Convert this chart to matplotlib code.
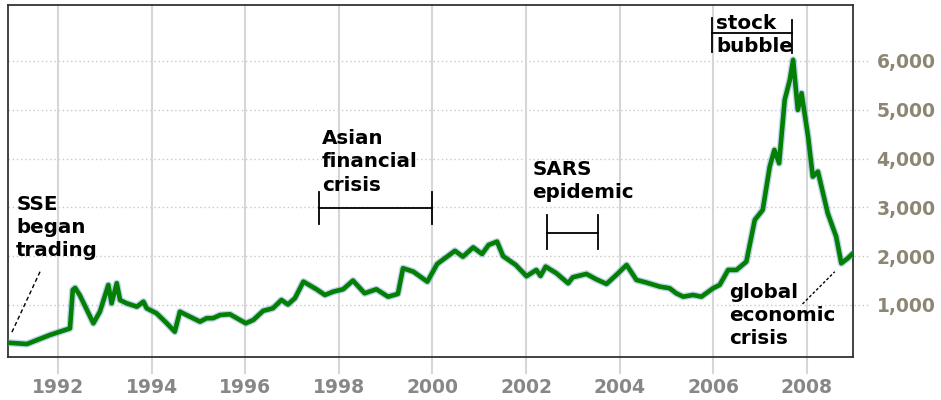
import matplotlib
matplotlib.use("Agg")
import matplotlib.pyplot as plt
import matplotlib.transforms as mtransforms

# ---- data (decimal year, index level) ----
years = [1990.95, 1991.33, 1991.82, 1992.25, 1992.31, 1992.36, 1992.46, 1992.75, 1992.89,
         1993.07, 1993.14, 1993.25, 1993.32, 1993.46, 1993.68, 1993.82, 1993.89, 1994.10,
         1994.32, 1994.49, 1994.60, 1994.74, 1995.03, 1995.17, 1995.31, 1995.46, 1995.67,
         1995.81, 1996.01, 1996.17, 1996.38, 1996.59, 1996.77, 1996.91, 1997.06, 1997.24,
         1997.52, 1997.70, 1997.88, 1998.09, 1998.30, 1998.55, 1998.80, 1999.05, 1999.26,
         1999.37, 1999.59, 1999.89, 2000.10, 2000.48, 2000.65, 2000.87, 2001.06, 2001.20,
         2001.38, 2001.51, 2001.78, 2002.01, 2002.22, 2002.31, 2002.42, 2002.65, 2002.90,
         2003.00, 2003.29, 2003.50, 2003.72, 2003.93, 2004.15, 2004.36, 2004.57, 2004.86,
         2005.07, 2005.21, 2005.36, 2005.57, 2005.75, 2006.00, 2006.14, 2006.32, 2006.50,
         2006.71, 2006.89, 2007.06, 2007.21, 2007.31, 2007.41, 2007.53, 2007.64, 2007.71,
         2007.81, 2007.89, 2008.03, 2008.13, 2008.24, 2008.45, 2008.63, 2008.74, 2008.88,
         2008.99]
index = [225, 200, 385, 520, 1308, 1350, 1200, 625, 863,
         1410, 1035, 1445, 1100, 1035, 965, 1068, 932, 830,
         625, 453, 863, 795, 658, 728, 730, 795, 810,
         733, 625, 693, 880, 933, 1103, 1010, 1140, 1478,
         1322, 1205, 1273, 1322, 1500, 1240, 1322, 1170, 1226,
         1753, 1683, 1478, 1840, 2110, 1990, 2180, 2045, 2230,
         2298, 2000, 1820, 1590, 1718, 1595, 1786, 1650, 1445,
         1568, 1636, 1527, 1431, 1615, 1820, 1513, 1460, 1376,
         1343, 1240, 1170, 1205, 1170, 1343, 1410, 1718, 1718,
         1888, 2743, 2948, 3836, 4178, 3905, 5203, 5613, 6023,
         4998, 5340, 4450, 3630, 3733, 2880, 2400, 1855, 1958,
         2060]

x_ticks = [1992, 1994, 1996, 1998, 2000, 2002, 2004, 2006, 2008]
y_ticks = [1000, 2000, 3000, 4000, 5000, 6000]
y_tick_labels = ["1,000", "2,000", "3,000", "4,000", "5,000", "6,000"]

# events: (label, start, end)
asian = ("Asian\nfinancial\ncrisis", 1997.57, 2000.0)
sars = ("SARS\nepidemic", 2002.44, 2003.54)
bubble = ("stock\nbubble", 2005.98, 2007.69)

W, H = 941, 400
fig = plt.figure(figsize=(W / 100, H / 100), dpi=100)
ax = fig.add_axes([8 / W, (H - 357) / H, 845 / W, 352 / H])
ax.set_xlim(1990.925, 2008.99)
ax.set_ylim(-66, 7147)

# grid lines
blend_h = mtransforms.blended_transform_factory(ax.transAxes, ax.transData)
for yv in y_ticks:
    ax.plot([0, (870 - 8) / 845], [yv, yv], transform=blend_h, color="#c8c8c8",
            lw=1.0, ls=(0, (1, 2)), clip_on=False, zorder=1)
for xv in x_ticks:
    ax.axvline(xv, ymin=-0.045, ymax=1, color="#d6d6d6", lw=1.5, clip_on=False, zorder=1)

# series
ax.plot(years, index, color="#6f9fd0", lw=5.2, alpha=0.45, solid_joinstyle="round",
        solid_capstyle="round", zorder=3)
ax.plot(years, index, color="#037f03", lw=3.3, solid_joinstyle="round",
        solid_capstyle="round", zorder=4)

# ticks
ax.set_xticks(x_ticks)
ax.set_xticklabels([str(v) for v in x_ticks], fontsize=13.5, fontweight="bold", color="#878787")
ax.set_yticks(y_ticks)
ax.set_yticklabels(y_tick_labels, fontsize=13.5, fontweight="bold", color="#8c8672")
ax.tick_params(axis="x", length=0, pad=15)
ax.tick_params(axis="y", length=0, pad=17, labelleft=False, labelright=True)
for s in ax.spines.values():
    s.set_color("#333333")
    s.set_linewidth(1.3)

tk = dict(fontsize=14.3, fontweight="bold", color="black", va="top", ha="left",
          linespacing=1.28, zorder=6)

# SSE began trading
ax.text(1991.10, 3260, "SSE\nbegan\ntrading", **tk)
ax.plot([1991.61, 1991.00], [1682, 426], color="black", lw=1, ls=(0, (3, 2)), zorder=5)

# Asian financial crisis
ax.text(1997.63, 4600, asian[0], **tk)
ax.plot([asian[1], asian[2]], [2988, 2988], color="black", lw=1.3, zorder=5)
ax.plot([asian[1], asian[1]], [3322, 2660], color="black", lw=1.3, zorder=5)
ax.plot([asian[2], asian[2]], [3322, 2660], color="black", lw=1.3, zorder=5)

# SARS epidemic
ax.text(2002.14, 3980, sars[0], **tk)
ax.plot([sars[1], sars[2]], [2481, 2481], color="black", lw=1.3, zorder=5)
ax.plot([sars[1], sars[1]], [2844, 2147], color="black", lw=1.3, zorder=5)
ax.plot([sars[2], sars[2]], [2844, 2147], color="black", lw=1.3, zorder=5)

# stock bubble
ax.text(2006.07, 6960, bubble[0], **tk)
ax.plot([bubble[1], bubble[2]], [6567, 6567], color="black", lw=1.3, zorder=5)
ax.plot([bubble[1], bubble[1]], [6881, 6184], color="black", lw=1.3, zorder=5)
ax.plot([bubble[2], bubble[2]], [6840, 6164], color="black", lw=1.3, zorder=5)

# global economic crisis
ax.text(2006.34, 1460, "global\neconomic\ncrisis", **tk)
ax.plot([2007.91, 2008.60], [1020, 1682], color="black", lw=1, ls=(0, (2, 1.5)), zorder=5)

fig.savefig("out.png", dpi=100, facecolor="white")
